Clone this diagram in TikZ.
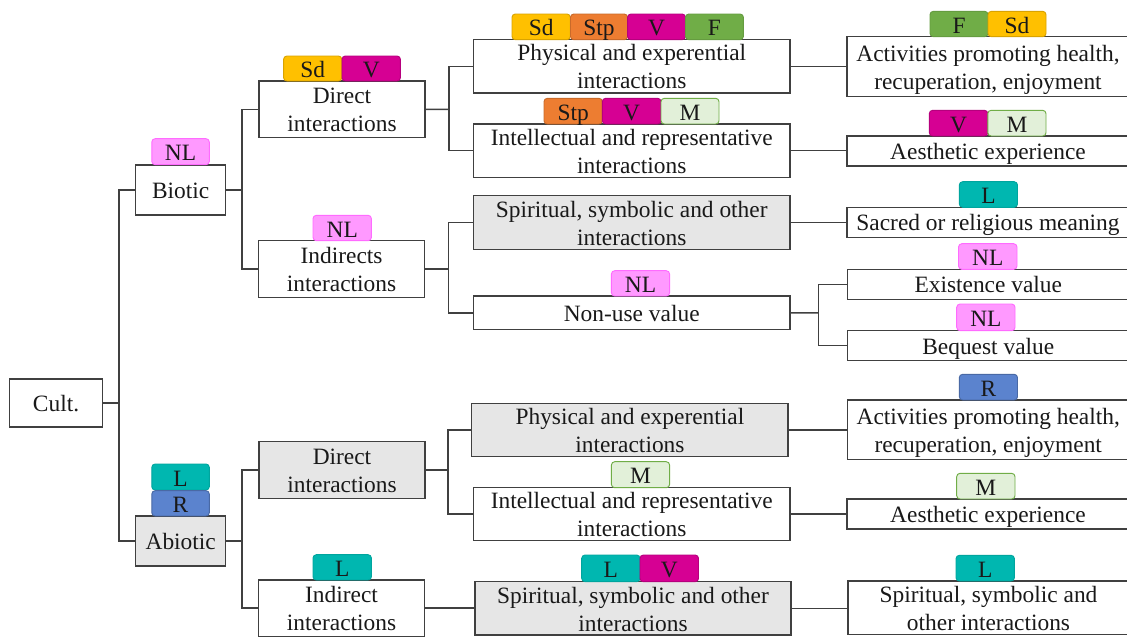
\documentclass[tikz,border=0pt]{standalone}
\usepackage{fontspec}
\setmainfont{Liberation Serif}
\definecolor{cgold}{HTML}{FFC000}
\definecolor{corange}{HTML}{ED7D31}
\definecolor{cmag}{HTML}{D60093}
\definecolor{cgreen}{HTML}{70AD47}
\definecolor{clight}{HTML}{E2F0D9}
\definecolor{cteal}{HTML}{00B7B0}
\definecolor{cblue}{HTML}{5B83CE}
\definecolor{cpink}{HTML}{FF99FF}
\definecolor{cgray}{HTML}{E6E6E6}
\definecolor{cline}{HTML}{404040}
\tikzset{
  txt/.style={font=\fontsize{17.55pt}{21pt}\selectfont,text=black!90},
  rbx/.style={txt,draw=cline,line width=0.95pt,fill=white,inner sep=0pt,outer sep=0pt,rectangle},
  graybx/.style={rbx,fill=cgray},
  tagbx/.style={txt,rectangle,rounded corners=2.5pt,inner sep=0pt,outer sep=0pt,line width=0.7pt,text height=15.5pt,text depth=2pt},
  tSd/.style={tagbx,fill=cgold,draw=cgold!85!black},
  tStp/.style={tagbx,fill=corange,draw=corange!85!black},
  tV/.style={tagbx,fill=cmag,draw=cmag!85!black},
  tF/.style={tagbx,fill=cgreen,draw=cgreen!90!black},
  tM/.style={tagbx,fill=clight,draw=cgreen},
  tL/.style={tagbx,fill=cteal,draw=cteal!90!black},
  tR/.style={tagbx,fill=cblue,draw=cblue!80!black},
  tNL/.style={tagbx,fill=cpink,draw=cpink!70!magenta},
  conn/.style={draw=cline,line width=1.1pt,miter limit=10},
}
% tag: name, style, x1, y1, x2, y2, text
\newcommand\rect[7]{\node[#2,minimum width={(#5-#3)*0.75pt},minimum height={(#6-#4)*0.75pt}] (#1) at ({(#3+#5)/2},{(#4+#6)/2}) {#7};}
% labelled box: the text takes no height, so the box keeps its size; it sits a little low, as in the picture
\newcommand\lbox[7]{\rect{#1}{#2}{#3}{#4}{#5}{#6}{\raisebox{-6.6pt}[0pt][0pt]{\begin{tabular}{@{}c@{}}#7\end{tabular}}}}
\begin{document}
\begin{tikzpicture}[x=0.75pt,y=-0.75pt]
\useasboundingbox (0,0) rectangle (1127,637);
\fill[white] (0,0) rectangle (1127,637);
\lbox{cult}{rbx}{9.6}{379}{102.5}{427}{Cult.}
\lbox{biotic}{rbx}{135.7}{165}{225.7}{215}{Biotic}
\lbox{abiotic}{graybx}{135.7}{516}{225.7}{566}{Abiotic}
\lbox{bdirect}{rbx}{259}{81}{425}{137.7}{Direct\\interactions}
\lbox{bindirect}{rbx}{258.5}{240.7}{424.6}{297.7}{Indirects\\interactions}
\lbox{adirect}{graybx}{259}{441.7}{425}{498.7}{Direct\\interactions}
\lbox{aindirect}{rbx}{258.5}{580}{424.6}{636.3}{Indirect\\interactions}
\lbox{phys}{rbx}{473.5}{39.7}{790}{93}{Physical and experential\\interactions}
\lbox{intel}{rbx}{473.5}{124}{790}{177.5}{Intellectual and representative\\interactions}
\lbox{spir}{graybx}{473.5}{195.7}{790}{249.3}{Spiritual, symbolic and other\\interactions}
\lbox{nonuse}{rbx}{473.5}{296}{790}{329.7}{Non-use value}
\lbox{aphys}{graybx}{471.8}{403.3}{788}{456.7}{Physical and experential\\interactions}
\lbox{aintel}{rbx}{473.5}{487.7}{790}{540.7}{Intellectual and representative\\interactions}
\lbox{aspir}{graybx}{475}{581.7}{791}{635}{Spiritual, symbolic and other\\interactions}
\lbox{ract}{rbx}{847}{36.7}{1129}{96.3}{Activities promoting health,\\recuperation, enjoyment}
\lbox{raes}{rbx}{847}{136}{1129}{166}{Aesthetic experience}
\lbox{rsac}{rbx}{847}{207.3}{1129}{237.3}{Sacred or religious meaning}
\lbox{rexi}{rbx}{847.5}{269.3}{1129}{299.3}{Existence value}
\lbox{rbeq}{rbx}{847.5}{330.7}{1129}{360.7}{Bequest value}
\lbox{ract2}{rbx}{847.5}{400}{1129}{459.7}{Activities promoting health,\\recuperation, enjoyment}
\lbox{raes2}{rbx}{847}{499}{1129}{529}{Aesthetic experience}
\lbox{rspi}{rbx}{848}{581}{1129}{634.7}{Spiritual, symbolic and\\other interactions}
% tags
\rect{t1}{tNL}{151.8}{138.7}{209.3}{164.7}{NL}
\rect{t2}{tSd}{283.6}{56}{341.8}{81}{Sd}
\rect{t3}{tV}{342}{56}{400.4}{81}{V}
\rect{t4}{tNL}{313}{215.3}{371.4}{240.7}{NL}
\rect{t5}{tSd}{512}{14}{570.3}{39.7}{Sd}
\rect{t6}{tStp}{570.5}{14}{627.6}{39.7}{Stp}
\rect{t7}{tV}{627.6}{14}{685.5}{39.7}{V}
\rect{t8}{tF}{685.5}{14}{743.4}{39.7}{F}
\rect{t9}{tStp}{544}{98.3}{602.3}{124}{Stp}
\rect{t10}{tV}{602.3}{98.3}{661}{124}{V}
\rect{t11}{tM}{661}{98.3}{719}{124}{M}
\rect{t12}{tF}{930}{11.3}{988}{36.7}{F}
\rect{t13}{tSd}{988}{11.3}{1046}{36.7}{Sd}
\rect{t14}{tV}{929.3}{110.3}{987.8}{136}{V}
\rect{t15}{tM}{987.8}{110.3}{1046}{136}{M}
\rect{t16}{tL}{959.3}{181.7}{1017.5}{207.3}{L}
\rect{t17}{tNL}{958.5}{243.7}{1017}{269.3}{NL}
\rect{t18}{tNL}{611.4}{270.7}{669.6}{296}{NL}
\rect{t19}{tNL}{956.7}{304}{1015}{330.7}{NL}
\rect{t20}{tR}{959.3}{374.3}{1017.5}{400}{R}
\rect{t21}{tM}{611.4}{461.7}{669.6}{487.7}{M}
\rect{t22}{tM}{956.7}{473.3}{1015}{499}{M}
\rect{t23}{tL}{581.7}{555}{640}{581.7}{L}
\rect{t24}{tV}{640}{555}{698.5}{581.7}{V}
\rect{t25}{tL}{956}{555.3}{1014.4}{581}{L}
\rect{t26}{tL}{151.8}{464}{209.3}{490}{L}
\rect{t27}{tR}{151.8}{490.7}{209.3}{516}{R}
\rect{t28}{tL}{313}{554.7}{371.4}{580}{L}
% junctions
\coordinate (j0) at (119,403);
\coordinate (j1) at (242,190);
\coordinate (j2) at (242,541);
\coordinate (j3) at (449,109.4);
\coordinate (j4) at (448.6,269.2);
\coordinate (j5) at (448,470.2);
\coordinate (j6) at (818.6,312.8);
% connectors
\draw[conn] (cult.east) -- (j0);
\draw[conn] (biotic.west) -| (j0) |- (abiotic.west);
\draw[conn] (biotic.east) -- (j1);
\draw[conn] (bdirect.west) -| (j1) |- (bindirect.west);
\draw[conn] (abiotic.east) -- (j2);
\draw[conn] (adirect.west) -| (j2) |- (aindirect.west);
\draw[conn] (bdirect.east) -- (j3);
\draw[conn] (phys.west) -| (j3) |- (intel.west);
\draw[conn] (bindirect.east) -- (j4);
\draw[conn] (spir.west) -| (j4) |- (nonuse.west);
\draw[conn] (adirect.east) -- (j5);
\draw[conn] (aphys.west) -| (j5) |- (aintel.west);
\draw[conn] (aindirect.east) -- (aindirect.east -| aspir.west);
\draw[conn] (phys.east) -- (phys.east -| ract.west);
\draw[conn] (intel.east) -- (intel.east -| raes.west);
\draw[conn] (spir.east) -- (spir.east -| rsac.west);
\draw[conn] (nonuse.east) -- (j6);
\draw[conn] (rexi.west) -| (j6) |- (rbeq.west);
\draw[conn] (aphys.east) -- (aphys.east -| ract2.west);
\draw[conn] (aintel.east) -- (aintel.east -| raes2.west);
\draw[conn] (aspir.east) -- (aspir.east -| rspi.west);
\end{tikzpicture}
\end{document}
